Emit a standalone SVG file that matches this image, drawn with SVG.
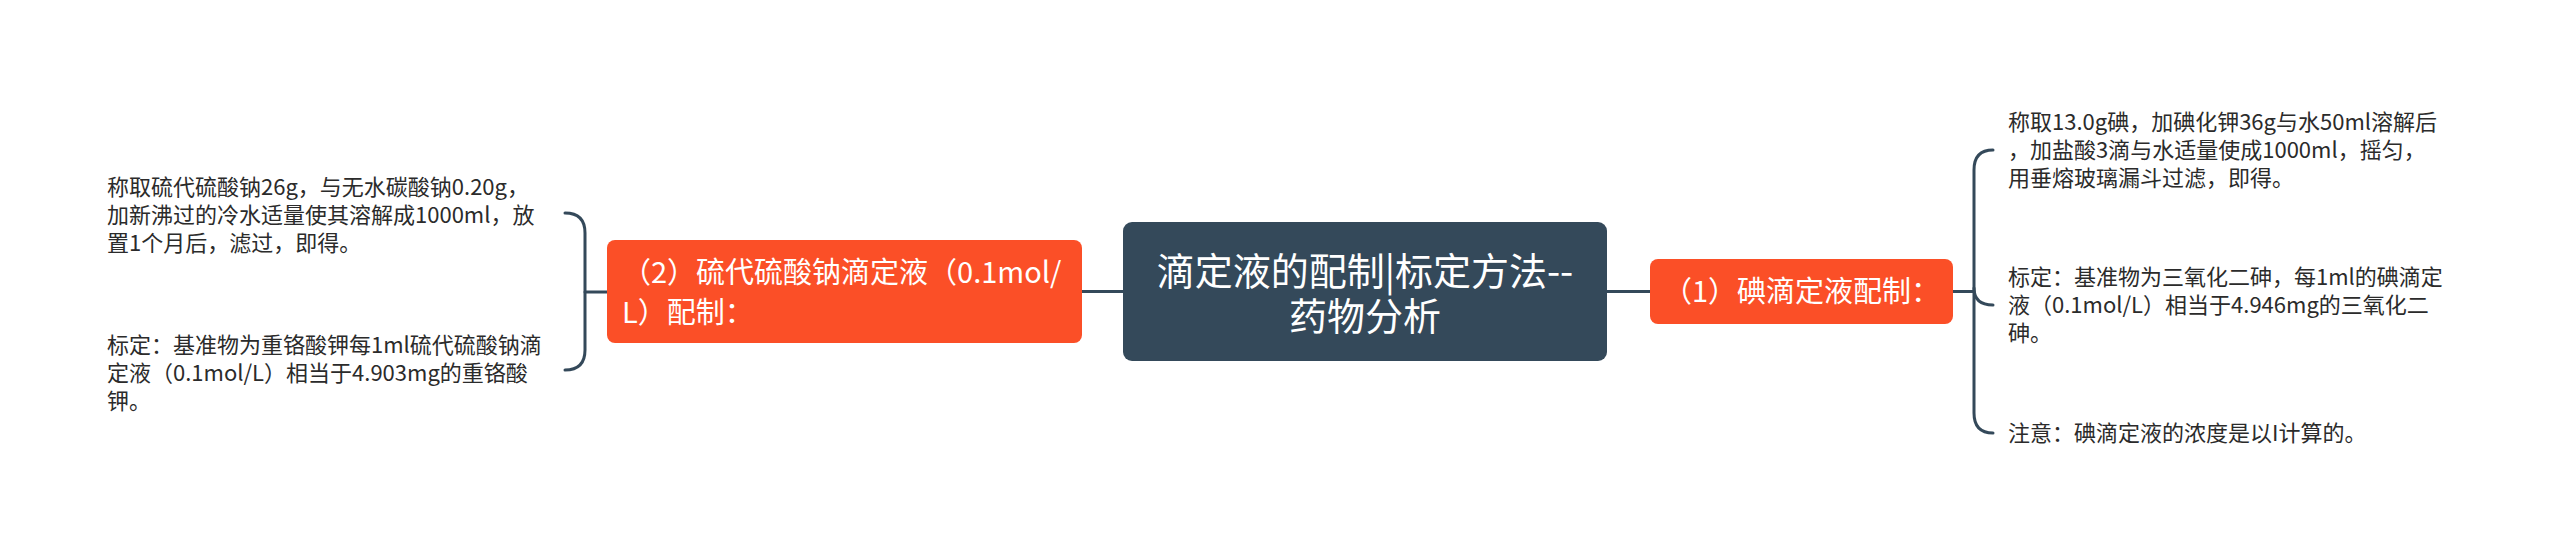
<svg xmlns="http://www.w3.org/2000/svg" width="2560" height="555" viewBox="0 0 2560 555">
<style>
.t{font-family:"Noto Sans CJK SC","Noto Sans",sans-serif;}
.leaf{font-size:22px;fill:#2b2b2b;}
.w{fill:#ffffff;}
.conn{fill:none;stroke:#34495a;stroke-width:3;stroke-linecap:round;}
.root{fill:#34495a;}
.sub{fill:#fb4f27;}
</style>
<rect width="2560" height="555" fill="#ffffff"/>
<g id="connectors">
<path class="conn" d="M1123,291.5 H1082"/>
<path class="conn" d="M607,292 H585"/>
<path class="conn" d="M565,213 Q585,213 585,233 V350 Q585,370 565,370"/>
<path class="conn" d="M1607,291.5 H1650"/>
<path class="conn" d="M1953,291.5 H1974"/>
<path class="conn" d="M1993,150 Q1974,150 1974,170 V413 Q1974,433 1993,433"/>
<path class="conn" d="M1974,288 Q1974,305 1993,305"/>
</g>
<g id="root">
<rect class="root" x="1123" y="222" width="484" height="139" rx="9"/>
<text class="t w" x="1365" y="285" font-size="38" text-anchor="middle">滴定液的配制|标定方法--</text>
<text class="t w" x="1365" y="330" font-size="38" text-anchor="middle">药物分析</text>
</g>
<g id="node-2">
<rect class="sub" x="607" y="240" width="475" height="103" rx="8"/>
<text class="t w" x="622" y="283" font-size="29">（2）硫代硫酸钠滴定液（0.1mol/</text>
<text class="t w" x="622" y="323" font-size="29">L）配制：</text>
</g>
<g id="node-1">
<rect class="sub" x="1650" y="259" width="303" height="65" rx="8"/>
<text class="t w" x="1801.5" y="302" font-size="29" text-anchor="middle">（1）碘滴定液配制：</text>
</g>
<g id="leaf-2a">
<text class="t leaf" x="107" y="195">称取硫代硫酸钠26g，与无水碳酸钠0.20g，</text>
<text class="t leaf" x="107" y="223">加新沸过的冷水适量使其溶解成1000ml，放</text>
<text class="t leaf" x="107" y="251">置1个月后，滤过，即得。</text>
</g>
<g id="leaf-2b">
<text class="t leaf" x="107" y="353">标定：基准物为重铬酸钾每1ml硫代硫酸钠滴</text>
<text class="t leaf" x="107" y="381">定液（0.1mol/L）相当于4.903mg的重铬酸</text>
<text class="t leaf" x="107" y="409">钾。</text>
</g>
<g id="leaf-1a">
<text class="t leaf" x="2008" y="130">称取13.0g碘，加碘化钾36g与水50ml溶解后</text>
<text class="t leaf" x="2008" y="158">，加盐酸3滴与水适量使成1000ml，摇匀，</text>
<text class="t leaf" x="2008" y="186">用垂熔玻璃漏斗过滤，即得。</text>
</g>
<g id="leaf-1b">
<text class="t leaf" x="2008" y="285">标定：基准物为三氧化二砷，每1ml的碘滴定</text>
<text class="t leaf" x="2008" y="313">液（0.1mol/L）相当于4.946mg的三氧化二</text>
<text class="t leaf" x="2008" y="341">砷。</text>
</g>
<g id="leaf-1c">
<text class="t leaf" x="2008" y="441">注意：碘滴定液的浓度是以I计算的。</text>
</g>
</svg>
